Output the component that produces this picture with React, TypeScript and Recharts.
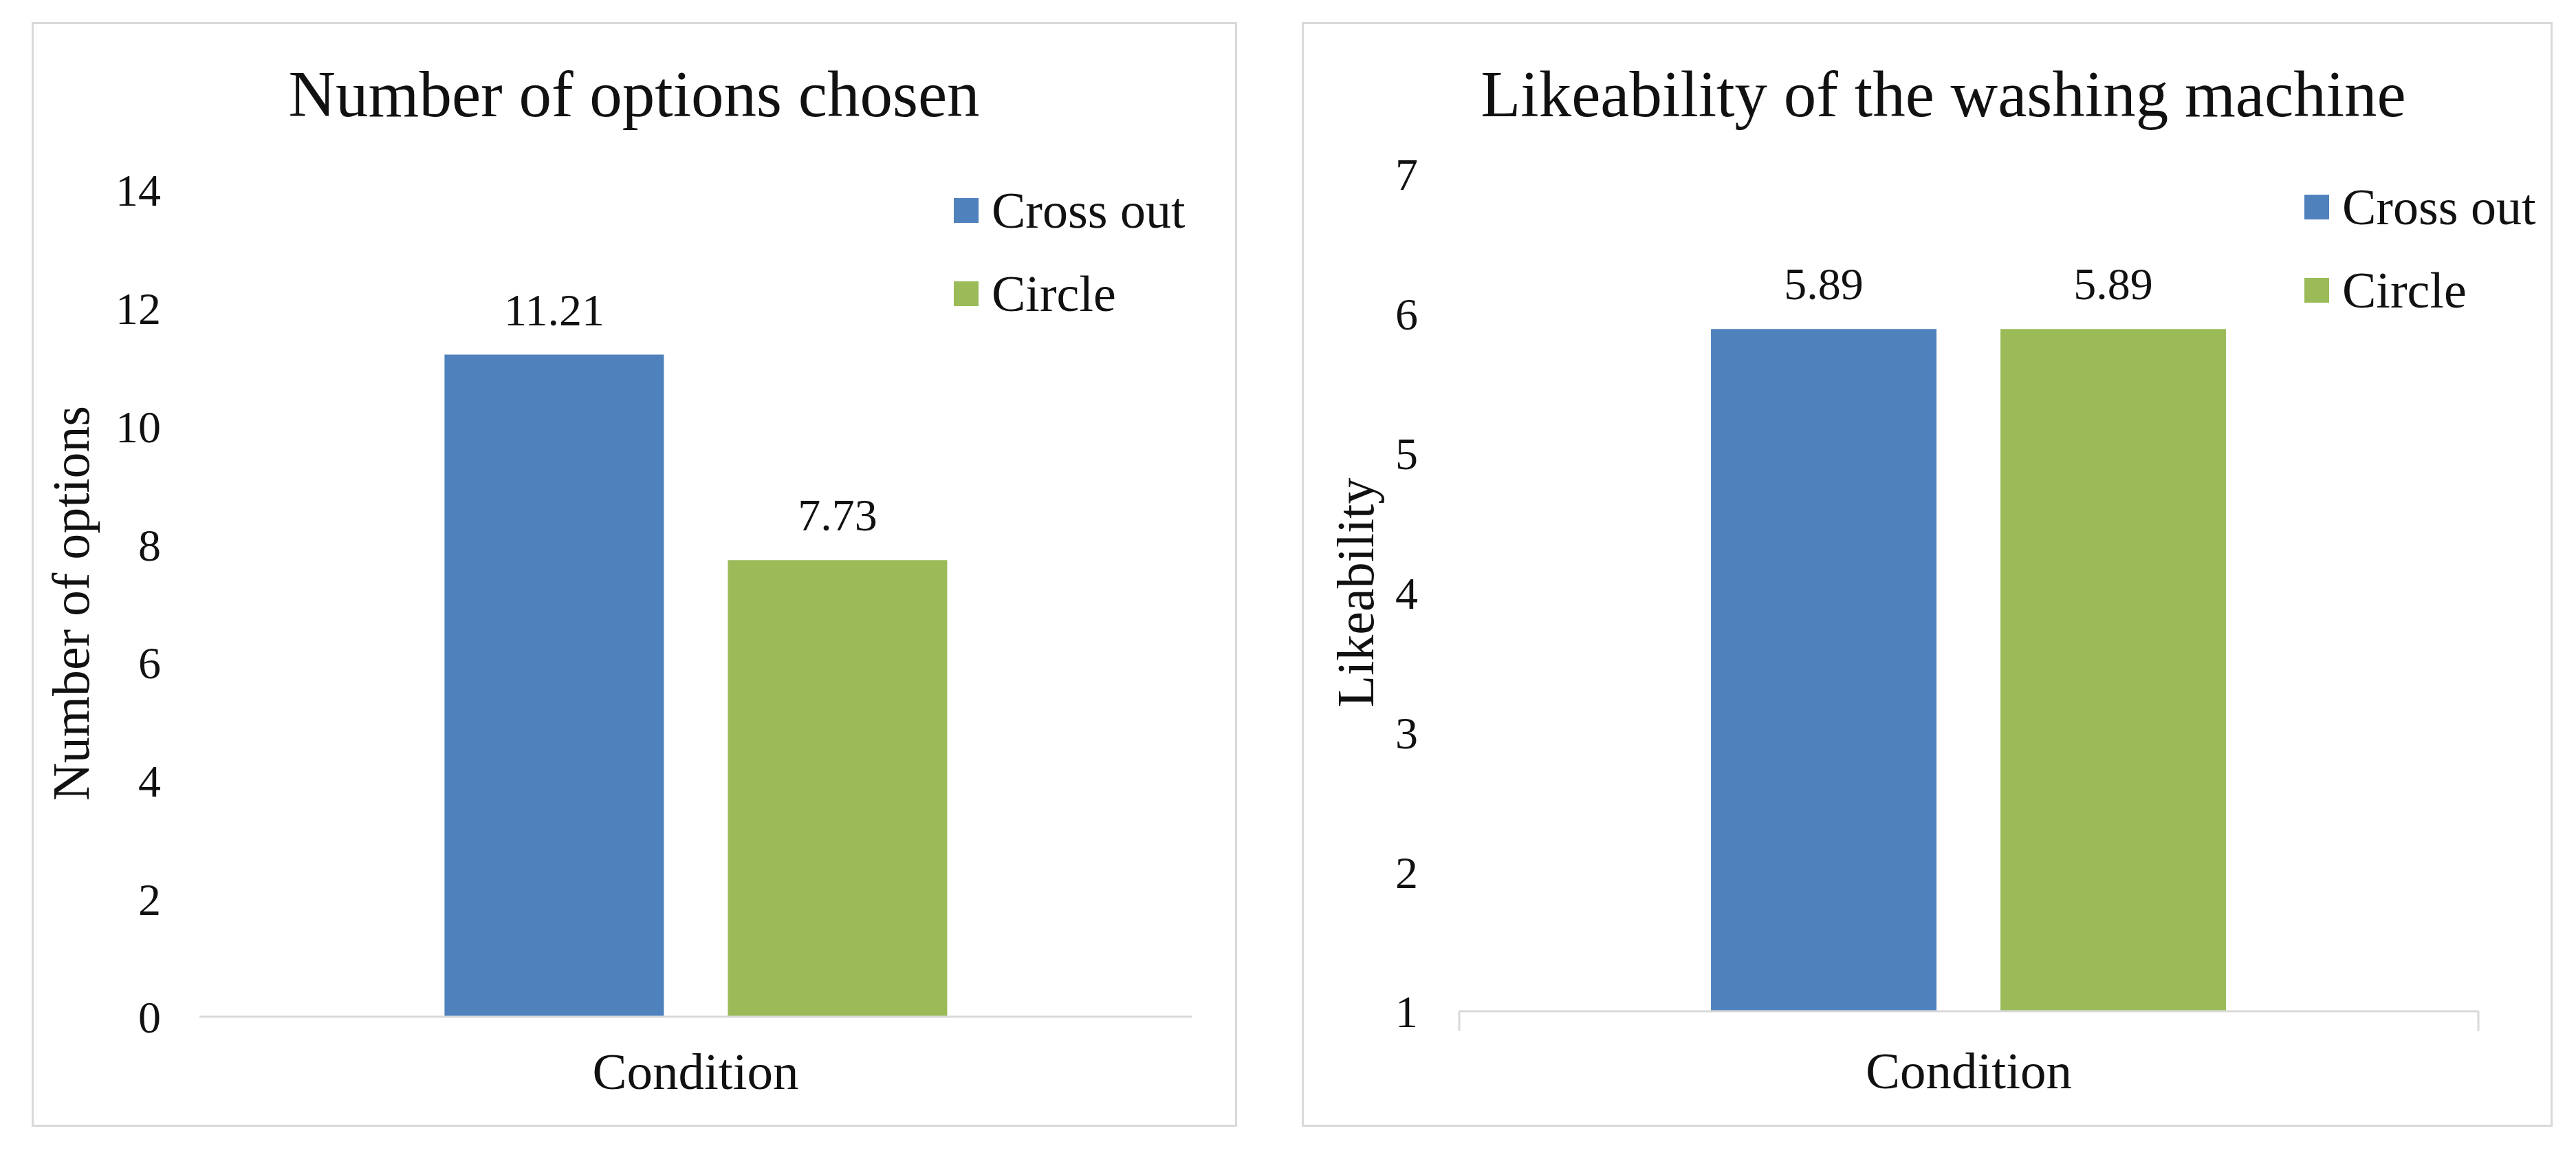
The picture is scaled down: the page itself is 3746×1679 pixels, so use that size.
import React from 'react';
import { BarChart, Bar, XAxis, YAxis, Legend, LabelList } from 'recharts';

const FONT = '"Liberation Serif", "Times New Roman", serif';
const BLUE = '#4f81bd';
const GREEN = '#9bbb59';
const LINE = '#d9d9d9';
const INK = '#111111';

// series
const SERIES_NAMES = ['Cross out', 'Circle'];
const SERIES_KEYS = ['crossOut', 'circle'];
const SERIES_COLORS = [BLUE, GREEN];

// left chart: number of options chosen
const OPTIONS_VALUES = [11.21, 7.73];
const OPTIONS_TICKS = [0, 2, 4, 6, 8, 10, 12, 14];

// right chart: likeability
const LIKE_VALUES = [5.89, 5.89];
const LIKE_TICKS = [1, 2, 3, 4, 5, 6, 7];

// category-axis boundaries (Excel draws a tick at each end on the right chart)
const EDGE_TICKS = [0, 1];

const toRows = (values: number[]) => {
  const row: Record<string, string | number> = { name: '', edge: 0.5 };
  SERIES_KEYS.forEach((k, i) => (row[k] = values[i]));
  return [row];
};

const PANEL_TOP = 32;
const PANEL_H = 1606;

interface PanelProps {
  left: number;
  width: number;
  title: string;
  titleCenter: number;
  yLabel: string;
  yLabelX: number;
  values: number[];
  ticks: number[];
  margin: { top: number; right: number; bottom: number; left: number };
  tickMargin: number;
  xAxisHeight: number;
  legendX: number;
  legendY: number;
  edgeTicks?: boolean;
}

function Panel(p: PanelProps) {
  const data = toRows(p.values);

  const yTitle = ({ viewBox }: any) => {
    const cy = viewBox.y + viewBox.height / 2;
    return (
      <text
        x={p.yLabelX}
        y={cy}
        transform={`rotate(-90 ${p.yLabelX} ${cy})`}
        textAnchor="middle"
        dominantBaseline="central"
        fontFamily={FONT}
        fontSize={76}
        fill={INK}
      >
        {p.yLabel}
      </text>
    );
  };

  // keep the legend in series order (Cross out, then Circle)
  const legend = (props: any) => {
    const items = [...(props.payload || [])]
      .map((e: any) => ({ name: e.value, color: e.color }))
      .sort((a: any, b: any) => SERIES_NAMES.indexOf(a.name) - SERIES_NAMES.indexOf(b.name));
    return (
      <div style={{ fontFamily: FONT, fontSize: 74, color: INK }}>
        {items.map((it: any) => (
          <div key={it.name} style={{ display: 'flex', alignItems: 'center', height: 121 }}>
            <span style={{ display: 'inline-block', width: 36, height: 36, background: it.color, marginRight: 19 }} />
            <span style={{ lineHeight: 1, whiteSpace: 'nowrap' }}>{it.name}</span>
          </div>
        ))}
      </div>
    );
  };

  return (
    <>
      <div
        style={{
          position: 'absolute',
          left: p.left,
          top: PANEL_TOP,
          width: p.width,
          height: PANEL_H,
          border: `3px solid ${LINE}`,
          boxSizing: 'border-box',
        }}
      />
      <div
        style={{
          position: 'absolute',
          left: p.titleCenter - 1000,
          width: 2000,
          top: 90,
          textAlign: 'center',
          fontFamily: FONT,
          fontSize: 95,
          lineHeight: 1,
          color: INK,
        }}
      >
        {p.title}
      </div>
      <div style={{ position: 'absolute', left: p.left, top: PANEL_TOP }}>
        <BarChart
          width={p.width}
          height={PANEL_H}
          data={data}
          margin={p.margin}
          barCategoryGap="24.7%"
          barGap={93}
        >
          <XAxis
            dataKey="name"
            height={p.xAxisHeight}
            tick={false}
            tickLine={false}
            axisLine={{ stroke: LINE, strokeWidth: 3 }}
            label={{
              value: 'Condition',
              position: 'insideBottom',
              offset: 35,
              fontFamily: FONT,
              fontSize: 75,
              fill: INK,
            }}
          />
          <YAxis
            width={200}
            domain={[p.ticks[0], p.ticks[p.ticks.length - 1]]}
            ticks={p.ticks}
            interval={0}
            axisLine={false}
            tickLine={false}
            tickSize={0}
            tickMargin={p.tickMargin}
            tick={{ fontFamily: FONT, fontSize: 66, fill: INK }}
            label={{ content: yTitle }}
          />
          <Legend
            layout="vertical"
            align="center"
            verticalAlign="middle"
            content={legend}
            wrapperStyle={{ position: 'absolute', left: p.legendX, top: p.legendY, width: 'auto', height: 'auto' }}
          />
          {SERIES_KEYS.map((k, i) => (
            <Bar key={k} dataKey={k} name={SERIES_NAMES[i]} fill={SERIES_COLORS[i]} isAnimationActive={false}>
              <LabelList
                dataKey={k}
                position="top"
                offset={43}
                fontFamily={FONT}
                fontSize={66}
                fill={INK}
              />
            </Bar>
          ))}
          {p.edgeTicks && (
            <XAxis
              xAxisId="edge"
              dataKey="edge"
              type="number"
              domain={[0, 1]}
              ticks={EDGE_TICKS}
              allowDataOverflow
              height={1}
              axisLine={false}
              tick={() => <g />}
              tickSize={29}
              tickLine={{ stroke: LINE, strokeWidth: 3 }}
              transform={`translate(0, -${p.xAxisHeight})`}
            />
          )}
        </BarChart>
      </div>
    </>
  );
}

export default function App() {
  return (
    <div style={{ position: 'absolute', left: 0, top: 0, width: 3746, height: 1679, background: '#fff', overflow: 'hidden' }}>
      <Panel
        left={46}
        width={1753}
        title="Number of options chosen"
        titleCenter={922}
        yLabel="Number of options"
        yLabelX={57}
        values={OPTIONS_VALUES}
        ticks={OPTIONS_TICKS}
        margin={{ top: 244, right: 66, bottom: 20, left: 44 }}
        tickMargin={56}
        xAxisHeight={140}
        legendX={1341}
        legendY={213}
      />
      <Panel
        left={1893}
        width={1819}
        title="Likeability of the washing machine"
        titleCenter={2826}
        yLabel="Likeability"
        yLabelX={78}
        values={LIKE_VALUES}
        ticks={LIKE_TICKS}
        margin={{ top: 221, right: 108, bottom: 20, left: 29 }}
        tickMargin={60}
        xAxisHeight={147}
        legendX={1458}
        legendY={208}
        edgeTicks
      />
    </div>
  );
}
